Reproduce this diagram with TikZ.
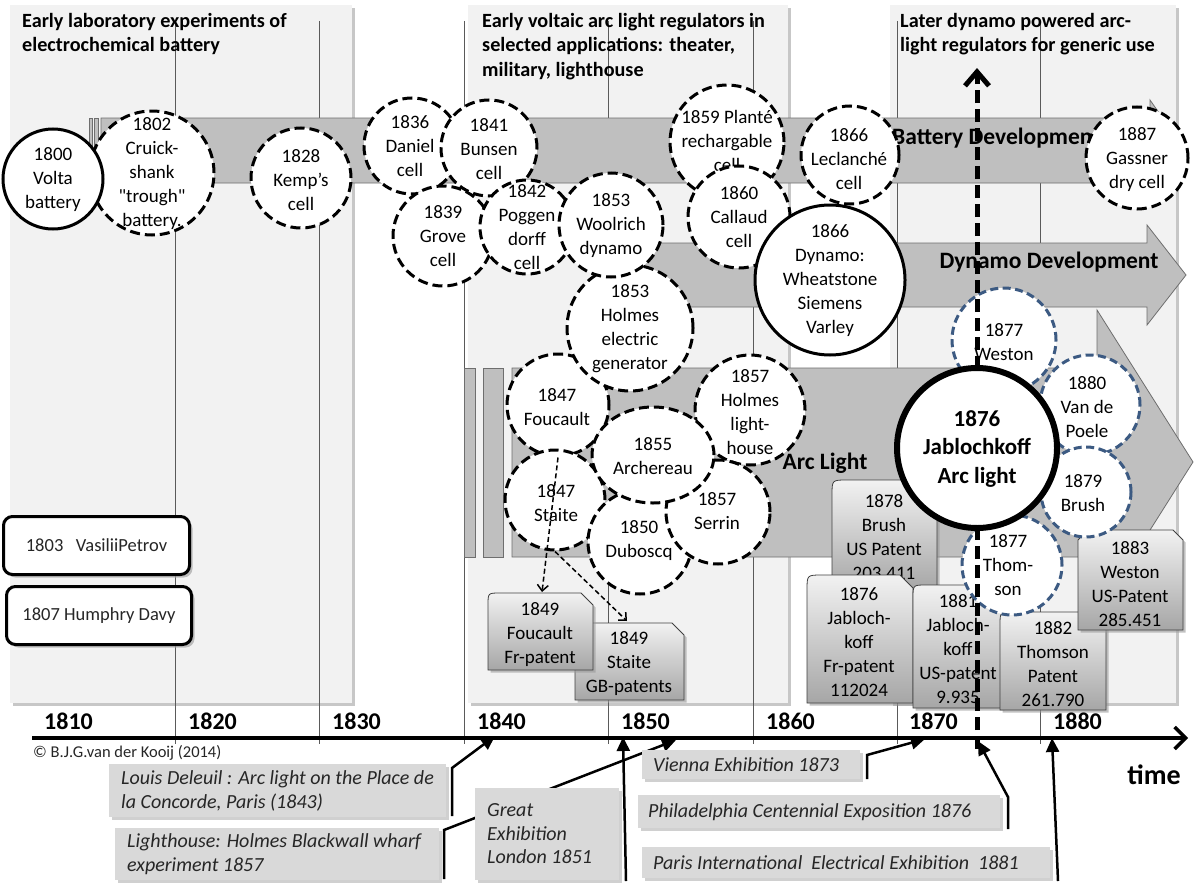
\documentclass[tikz,border=0pt]{standalone}
\usepackage{fontspec}
\setmainfont{Carlito}
\newfontfamily\qfont{Carlito}[Ligatures=TeXOff]
\usetikzlibrary{arrows.meta,shadows,shapes.geometric}
\definecolor{panelc}{HTML}{F2F2F2}
\definecolor{arrowc}{HTML}{BFBFBF}
\definecolor{arrowl}{HTML}{6E6E6E}
\definecolor{gridc}{HTML}{5A5A5A}
\definecolor{bluec}{RGB}{60,90,130}
\definecolor{evc}{HTML}{D9D9D9}
\definecolor{pattop}{HTML}{F2F2F2}
\definecolor{patbot}{HTML}{A6A6A6}
\definecolor{patline}{HTML}{404040}
\tikzset{
  panelbox/.style={fill=panelc, drop shadow={shadow xshift=3pt, shadow yshift=-3pt, fill=black!22, opacity=1}},
  gridline/.style={draw=gridc, line width=1pt},
  title/.style={align=left, inner sep=0pt, anchor=north west, font=\fontsize{20.2}{24.5}\selectfont\bfseries},
  garrow/.style={fill=arrowc, draw=arrowl, line width=0.8pt},
  abl/.style={inner sep=0pt, font=\fontsize{23.5}{28}\selectfont\bfseries},
  dc/.style={circle, draw=black, fill=white, line width=3pt, dash pattern=on 10pt off 5pt, inner sep=0pt},
  bc/.style={circle, draw=bluec, fill=white, line width=3pt, dash pattern=on 8pt off 4.5pt, inner sep=0pt},
  sc/.style={circle, draw=black, fill=white, line width=3pt, inner sep=0pt},
  ct/.style={align=center, inner sep=0pt, font=\fontsize{19}{24}\selectfont},
  pat/.style={draw=patline, line width=0.8pt, top color=pattop, bottom color=patbot,
     drop shadow={shadow xshift=2.5pt, shadow yshift=-2.5pt, fill=black!40, opacity=0.6}},
  lbox/.style={rounded corners=9pt, draw=black, line width=3pt, fill=white, inner sep=0pt,
     drop shadow={shadow xshift=3pt, shadow yshift=-3pt, fill=black!35, opacity=0.7},
     font=\fontsize{18.5}{22}\selectfont, text=black!85},
  evbox/.style={fill=evc, inner sep=0pt, anchor=north west,
     drop shadow={shadow xshift=3pt, shadow yshift=-3pt, fill=black!30, opacity=0.6}},
  et/.style={align=left, inner sep=0pt, anchor=west, font=\fontsize{20}{23.5}\selectfont\itshape, text=black!85},
  evarrow/.style={line width=2.5pt, -{Triangle[length=14pt,width=13pt]}},
  smalldash/.style={line width=1.5pt, dash pattern=on 5pt off 3pt, -{Straight Barb[length=6pt,width=11pt]}},
  bigdash/.style={line width=5pt, dash pattern=on 13pt off 6pt, -{Straight Barb[length=14pt,width=24pt]}},
  axl/.style={inner sep=0pt, anchor=west, font=\fontsize{24}{28}\selectfont\bfseries},
}
\begin{document}
\begin{tikzpicture}[x=1pt,y=-1pt]
\path[use as bounding box, fill=white] (0,0) rectangle (1198,883);

% panels
\path[panelbox] (10,5) rectangle (352,703);
\path[panelbox] (468,5) rectangle (788,703);
\path[panelbox] (890,5) rectangle (1176,703);

% decade lines
\foreach \gx in {175,319.5,464,608,753,897,1040} \draw[gridline] (\gx,21) -- (\gx,744);

% titles
\node[title] (title1) at (22,13) {Early laboratory experiments of\\electrochemical battery};
\node[title] (title2) at (482,13) {Early voltaic arc light regulators in\\selected applications: theater,\\military, lighthouse};
\node[title] (title3) at (900,13) {Later dynamo powered arc-\\light regulators for generic use};

% development arrows
\draw[garrow] (89,118) rectangle (92,183);
\draw[garrow] (94,118) rectangle (98,183);
\draw[garrow] (101,118) -- (1150,118) -- (1150,100) -- (1185,150) -- (1150,200) -- (1150,183) -- (101,183) -- cycle;
\draw[garrow] (600,243) -- (1147,243) -- (1147,225) -- (1186,275) -- (1147,325) -- (1147,307) -- (600,307) -- cycle;
\draw[garrow] (464,368) rectangle (475,557);
\draw[garrow] (483,368) rectangle (503,557);
\draw[garrow] (512,368) -- (1097,368) -- (1097,310) -- (1193,462) -- (1097,614) -- (1097,557) -- (512,557) -- cycle;

\node[abl, anchor=west] (batt-l) at (892,138) {Battery Development};
\node[abl] (dyn-l) at (1049,262) {Dynamo Development};
\node[abl] (arc-l) at (825,463) {Arc Light};

% battery & dynamo circles
\node[dc, minimum size=124pt] (cruick) at (152,173) {};
\node[ct] (cruick-t) at (152,174) {1802\\Cruick-\\shank\\{\qfont"}trough{\qfont"}\\battery.};
\node[sc, minimum size=100pt] (volta) at (53,179) {};
\node[ct] (volta-t) at (53,180) {1800\\Volta\\battery};
\node[dc, minimum size=100pt] (kemp) at (301,178) {};
\node[ct] (kemp-t) at (301,180) {1828\\Kemp’s\\cell};
\node[dc, minimum size=96pt] (daniel) at (412,146) {};
\node[ct] (daniel-t) at (410,146) {1836\\Daniel\\cell};
\node[dc, minimum size=100pt] (grove) at (443,236) {};
\node[ct] (grove-t) at (443,236) {1839\\Grove\\cell};
\node[dc, minimum size=96pt] (bunsen) at (489,148) {};
\node[ct] (bunsen-t) at (489,149) {1841\\Bunsen\\cell};
\node[dc, minimum size=94pt] (pogg) at (527,227) {};
\node[ct] (pogg-t) at (527,227) {1842\\Poggen\\dorff\\cell};
\node[dc, minimum size=102pt] (fouc) at (558,405) {};
\node[ct] (fouc-t) at (557,407) {1847\\Foucault};
\node[dc, minimum size=126pt] (holmesgen) at (630,328) {};
\node[ct] (holmesgen-t) at (630,329) {1853\\Holmes\\electric\\generator};
\node[dc, minimum size=104pt] (woolrich) at (611,225) {};
\node[ct] (woolrich-t) at (611,226) {1853\\Woolrich\\dynamo};
\node[dc, minimum size=114pt] (plante) at (727,142) {};
\node[ct] (plante-t) at (727,141) {1859 Planté\\rechargable\\cell};
\node[dc, minimum size=102pt] (callaud) at (739,217) {};
\node[ct] (callaud-t) at (739,217) {1860\\Callaud\\cell};
\node[dc, minimum size=98pt] (leclanche) at (850,155) {};
\node[ct] (leclanche-t) at (849,159) {1866\\Leclanché\\cell};
\node[sc, minimum size=150pt] (dynamo) at (830,280) {};
\node[ct] (dynamo-t) at (830,281) {1866\\Dynamo:\\Wheatstone\\Siemens\\Varley};
\node[dc, minimum size=102pt] (gassner) at (1137,158) {};
\node[ct] (gassner-t) at (1137,160) {1887\\Gassner\\dry cell};

% arc light circles
\node[dc, minimum size=100pt] (staite) at (555,500) {};
\node[ct] (staite-t) at (556,503) {1847\\Staite};
\node[dc, minimum size=104pt] (duboscq) at (640,542) {};
\node[ct] (duboscq-t) at (639,541) {1850\\Duboscq};
\node[dc, minimum size=110pt] (lighthouse) at (750,410) {};
\node[ct] (lighthouse-t) at (750,412) {1857\\Holmes\\light-\\house};
\node[dc, minimum size=104pt] (serrin) at (718,512) {};
\node[ct] (serrin-t) at (717,511) {1857\\Serrin};
\node[dc, ellipse, minimum width=122pt, minimum height=96pt] (archereau) at (653,455) {};
\node[ct] (archereau-t) at (653,456) {1855\\Archereau};

% patents
\path[pat] (575,700) -- (575,635) .. controls (575,623) .. (587,623) -- (672,623) -- (684,635) -- (684,700) -- cycle;
\node[ct] (spat-t) at (629,664) {1849\\Staite\\GB-patents};
\path[pat] (488,670) -- (488,605) .. controls (488,593) .. (500,593) -- (581,593) -- (593,605) -- (593,670) -- cycle;
\node[ct] (fpat-t) at (540,635) {1849\\Foucault\\Fr-patent};
\path[pat] (832,590) -- (832,495) .. controls (832,480) .. (847,480) -- (937,480) -- (937,590) -- cycle;
\node[ct] (bpat-t) at (884,537) {1878\\Brush\\US Patent\\203.411};
\path[pat] (807,703) -- (807,590) .. controls (807,575) .. (822,575) -- (900,575) -- (913,588) -- (913,703) -- cycle;
\node[ct] (jfpat-t) at (859,642) {1876\\Jabloch-\\koff\\Fr-patent\\112024};
\path[pat] (913,708) -- (913,598) .. controls (913,585) .. (926,585) -- (1002,585) -- (1002,708) -- cycle;
\node[ct] (jupat-t) at (958,649) {1881\\Jabloch-\\koff\\US-patent\\9.935};
\path[pat] (1000,710) -- (1000,625) .. controls (1000,612) .. (1013,612) -- (1106,612) -- (1106,710) -- cycle;
\node[ct] (tpat-t) at (1053,664) {1882\\Thomson\\Patent\\261.790};
\path[pat] (1078,630) -- (1078,540) -- (1088,530) -- (1173,530) -- (1183,540) -- (1183,630) -- cycle;
\node[ct] (wpat-t) at (1130,584) {1883\\Weston\\US-Patent\\285.451};

% patent arrows
\coordinate (fpat-in) at (542,592);
\coordinate (spat-in) at (627,621);
\draw[smalldash] (fouc.south) -- (fpat-in);
\draw[smalldash] (staite.south) -- (spat-in);

% later arc lights
\node[bc, minimum size=104pt] (weston) at (1004,340) {};
\node[ct] (weston-t) at (1004,342) {1877\\Weston};
\node[bc, minimum size=100pt] (vdp) at (1090,405) {};
\node[ct] (vdp-t) at (1087,407) {1880\\Van de\\Poele};
\node[bc, minimum size=90pt] (brushc) at (1086,492) {};
\node[ct] (brushc-t) at (1083,493) {1879\\Brush};
\node[bc, minimum size=100pt] (thomson) at (1012,565) {};
\node[ct] (thomson-t) at (1008,565) {1877\\Thom-\\son};

% early experiments boxes
\node[lbox, minimum width=186pt, minimum height=58pt, anchor=north west] (petrov) at (2,515) {1803\ \ \ VasiliiPetrov};
\node[lbox, minimum width=185pt, minimum height=58pt, anchor=north west] (davy) at (5,585) {1807 Humphry Davy};

% time axis
\coordinate (axstart) at (32,738);
\coordinate (axend) at (1188,738);
\draw[line width=3.5pt, -{Straight Barb[length=11pt,width=22pt]}] (axstart) -- (axend);
\node[axl] (l1810) at (44,721) {1810};
\node[axl] (l1820) at (188,721) {1820};
\node[axl] (l1830) at (332,721) {1830};
\node[axl] (l1840) at (477,721) {1840};
\node[axl] (l1850) at (621,721) {1850};
\node[axl] (l1860) at (766,721) {1860};
\node[axl] (l1870) at (909,721) {1870};
\node[axl] (l1880) at (1053,721) {1880};
\node[inner sep=0pt, font=\fontsize{28}{32}\selectfont\bfseries] (timel) at (1154,775) {time};
\node[inner sep=0pt, anchor=west, font=\fontsize{16.5}{19}\selectfont, text=black!85] (copyr) at (33,753) {© B.J.G.van der Kooij (2014)};

% events
\coordinate (t43) at (495,736);
\coordinate (t51) at (623,737);
\coordinate (t57) at (676,740);
\coordinate (t73) at (925,739);
\coordinate (t76) at (978,741);
\coordinate (t81) at (1052,738);
\coordinate (blackwall-a) at (444,879);
\draw[evarrow] (blackwall-a) -- ++(0,-49) -- (t57);
\node[evbox, minimum width=337pt, minimum height=53pt] (deleuil) at (109,764) {};
\node[et] (deleuil-t) at (121,791) {Louis Deleuil : Arc light on the Place de\\la Concorde,\ Paris (1843)};
\node[evbox, minimum width=324pt, minimum height=52pt] (blackwall) at (115,828) {};
\node[et] (blackwall-t) at (127,854) {Lighthouse: Holmes Blackwall wharf\\experiment 1857};
\node[evbox, minimum width=144pt, minimum height=92pt] (great) at (475,788) {};
\node[et] (great-t) at (487,834) {Great\\Exhibition\\London 1851};
\node[evbox, minimum width=218pt, minimum height=29pt] (vienna) at (642,750) {};
\node[et] (vienna-t) at (653,765) {Vienna Exhibition 1873};
\node[evbox, minimum width=362pt, minimum height=33pt] (phil) at (638,795) {};
\node[et] (phil-t) at (648,812) {Philadelphia Centennial Exposition 1876};
\node[evbox, minimum width=408pt, minimum height=31pt] (paris) at (642,847) {};
\node[et] (paris-t) at (653,863) {Paris International\ \ Electrical Exhibition\ \ 1881};

\coordinate (deleuil-a) at (452,816);
\coordinate (great-a) at (626,881);
\coordinate (vienna-a) at (867,779);
\coordinate (phil-a) at (1008,829);
\coordinate (paris-a) at (1058,881);
\draw[evarrow] (deleuil-a) -- ++(0,-48) -- (t43);
\draw[evarrow] (great-a) -- (t51);
\draw[evarrow] (vienna-a) -- ++(0,-24) -- (t73);
\draw[evarrow] (phil-a) -- ++(0,-32) -- (t76);
\draw[evarrow] (paris-a) -- (t81);

% big dashed arrow
\coordinate (jbot) at (977,749);
\coordinate (jtop) at (977,68);
\draw[bigdash] (jbot) -- (jtop);

% Jablochkoff
\node[circle, draw=black, fill=white, line width=6pt, inner sep=0pt, minimum size=160pt] (jabl) at (977,448) {};
\node[align=center, inner sep=0pt, font=\fontsize{23}{28.5}\selectfont\bfseries] (jabl-t) at (977,449) {1876\\Jablochkoff\\Arc light};
\end{tikzpicture}
\end{document}
